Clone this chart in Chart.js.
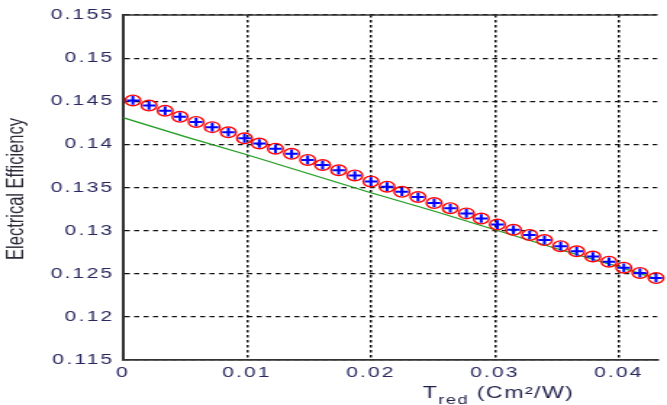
<!DOCTYPE html>
<html>
<head>
<meta charset="utf-8">
<script src="https://cdn.jsdelivr.net/npm/chart.js@4.4.1/dist/chart.umd.min.js"></script>
<style>
html, body { margin: 0; padding: 0; background: #fff; overflow: hidden; }
/* the reference is stretched sideways, so draw narrow and widen it */
#wrap { position: absolute; left: 0; top: 0; width: 460px; height: 405px; transform: scaleX(1.45); transform-origin: 0 0; }
</style>
</head>
<body>
<div id="wrap"><canvas id="chart"></canvas></div>
<script>
// marked series (red circles + blue crosses)
const tredMarked = [0.0008, 0.0021, 0.0034, 0.0046, 0.0059, 0.0072, 0.0085, 0.0098, 0.0110, 0.0123,
    0.0136, 0.0149, 0.0161, 0.0174, 0.0187, 0.0200, 0.0213, 0.0225, 0.0238, 0.0251,
    0.0264, 0.0277, 0.0289, 0.0302, 0.0315, 0.0328, 0.0340, 0.0353, 0.0366, 0.0379,
    0.0392, 0.0404, 0.0417, 0.0430];
const effMarked = [0.1451, 0.1445, 0.1439, 0.1432, 0.1426, 0.1420, 0.1414, 0.1407, 0.1401, 0.1395,
    0.1389, 0.1382, 0.1376, 0.1370, 0.1364, 0.1357, 0.1351, 0.1345, 0.1339, 0.1332,
    0.1326, 0.1320, 0.1314, 0.1307, 0.1301, 0.1295, 0.1289, 0.1282, 0.1276, 0.1270,
    0.1264, 0.1257, 0.1251, 0.1245];

// green line
const tredLine = [0, 0.005, 0.01, 0.015, 0.02, 0.025, 0.03, 0.035, 0.04, 0.0431];
const effLine = [0.1431, 0.1409, 0.1388, 0.1366, 0.1344, 0.1323, 0.1301, 0.1279, 0.1258, 0.1244];

const xTickValues = [0, 0.01, 0.02, 0.03, 0.04];
const yTickValues = [0.115, 0.12, 0.125, 0.13, 0.135, 0.14, 0.145, 0.15, 0.155];

const tickColor = '#2a2860';
const tickFont = {family: '"Liberation Sans", Arial, sans-serif', size: 14.5};

function toPoints(xs, ys){
    return xs.map(function(x, i){ return {x: x, y: ys[i]}; });
}

function fmt(v){
    return String(Number(v.toFixed(4)));
}

const spacingPlugin = {
    id: 'spacing',
    beforeLayout(chart){ chart.ctx.letterSpacing = '1.5px'; },
    beforeDraw(chart){ chart.ctx.letterSpacing = '1.5px'; }
};

const framePlugin = {
    id: 'frame',
    afterDraw(chart){
        const ctx = chart.ctx;
        const area = chart.chartArea;

        // top edge of the box
        ctx.save();
        ctx.strokeStyle = '#333';
        ctx.lineWidth = 1.5;
        ctx.beginPath();
        ctx.moveTo(area.left, area.top);
        ctx.lineTo(area.right, area.top);
        ctx.stroke();
        ctx.restore();

        // y title
        ctx.save();
        ctx.letterSpacing = '0px';
        ctx.fillStyle = '#2b2b3a';
        ctx.font = '16.5px "Liberation Sans", Arial, sans-serif';
        ctx.translate(11.5, 189);
        ctx.rotate(-Math.PI / 2);
        ctx.textAlign = 'center';
        ctx.textBaseline = 'middle';
        ctx.fillText('Electrical Efficiency', 0, 0);
        ctx.restore();

        // x title with subscript
        ctx.save();
        ctx.letterSpacing = '1px';
        ctx.fillStyle = '#1f1f4a';
        ctx.textAlign = 'left';
        ctx.textBaseline = 'alphabetic';
        let x = 291.5;
        ctx.font = '16px "Liberation Sans", Arial, sans-serif';
        ctx.fillText('T', x, 398);
        x += ctx.measureText('T').width;
        ctx.font = '12.5px "Liberation Sans", Arial, sans-serif';
        ctx.fillText('red', x, 404);
        x += ctx.measureText('red').width;
        ctx.font = '16px "Liberation Sans", Arial, sans-serif';
        ctx.fillText(' (Cm\u00b2/W)', x, 398);
        ctx.restore();
    }
};

new Chart(document.getElementById('chart'), {
    type: 'scatter',
    data: {
        datasets: [
            {
                data: toPoints(tredMarked, effMarked),
                showLine: false,
                pointStyle: 'cross',
                pointRadius: 4.3,
                pointBorderWidth: 2,
                pointBorderColor: '#0000ff',
                clip: false
            },
            {
                data: toPoints(tredMarked, effMarked),
                showLine: false,
                pointStyle: 'circle',
                pointRadius: 5.3,
                pointBorderWidth: 1.4,
                pointBorderColor: '#ff0000',
                pointBackgroundColor: 'rgba(0,0,0,0)',
                clip: false
            },
            {
                data: toPoints(tredLine, effLine),
                showLine: true,
                borderColor: '#1f9a1f',
                borderWidth: 1.2,
                pointRadius: 0,
                tension: 0
            }
        ]
    },
    options: {
        responsive: true,
        maintainAspectRatio: false,
        animation: false,
        events: [],
        layout: {padding: {top: 15, left: 0, right: 0, bottom: 0}},
        plugins: {legend: {display: false}, tooltip: {enabled: false}},
        scales: {
            x: {
                type: 'linear',
                min: 0,
                max: 0.0431,
                afterBuildTicks(scale){ scale.ticks = xTickValues.map(function(v){ return {value: v}; }); },
                afterFit(scale){ scale.height = 45; },
                grid: {color: '#111', lineWidth: 1.5, drawTicks: false},
                border: {display: true, color: '#333', width: 1.8, dash: [2.5, 2.5]},
                ticks: {padding: 4, color: tickColor, font: tickFont, maxRotation: 0, autoSkip: false, callback: fmt}
            },
            y: {
                type: 'linear',
                min: 0.115,
                max: 0.155,
                afterBuildTicks(scale){ scale.ticks = yTickValues.map(function(v){ return {value: v}; }); },
                afterFit(scale){ scale.width = 84.8; },
                grid: {color: '#111', lineWidth: 1.2, drawTicks: false},
                border: {display: true, color: '#333', width: 2, dash: [3.5, 3]},
                ticks: {padding: 6, color: tickColor, font: tickFont, autoSkip: false, callback: fmt}
            }
        }
    },
    plugins: [spacingPlugin, framePlugin]
});
</script>
</body>
</html>
